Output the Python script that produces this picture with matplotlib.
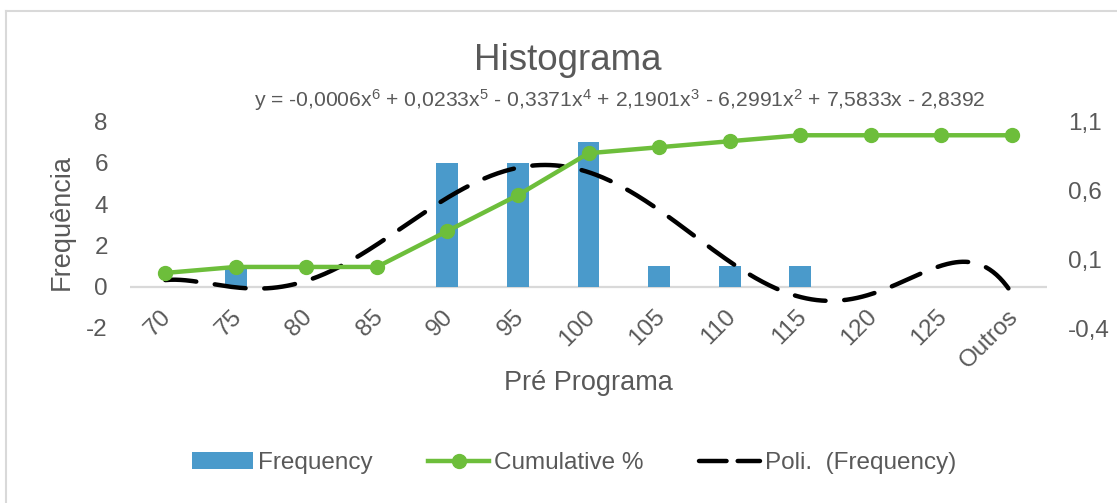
import numpy as np
import matplotlib
matplotlib.use("Agg")
import matplotlib.pyplot as plt
from matplotlib.patches import Patch
from matplotlib.lines import Line2D
from matplotlib.transforms import ScaledTranslation

plt.rcParams['font.family'] = ['Liberation Sans', 'DejaVu Sans']
plt.rcParams['mathtext.fontset'] = 'custom'
plt.rcParams['mathtext.rm'] = 'Liberation Sans'
plt.rcParams['mathtext.it'] = 'Liberation Sans'
plt.rcParams['mathtext.bf'] = 'Liberation Sans:bold'

# ---- data ----
categories = ['70', '75', '80', '85', '90', '95', '100', '105', '110', '115', '120', '125', 'Outros']
frequency = [0, 1, 0, 0, 6, 6, 7, 1, 1, 1, 0, 0, 0]
cumulative = [0.0, 0.0435, 0.0435, 0.0435, 0.3043, 0.5652, 0.8696, 0.9130, 0.9565, 1.0, 1.0, 1.0, 1.0]
y1_ticks = [-2, 0, 2, 4, 6, 8]
y2_ticks = [-0.4, 0.1, 0.6, 1.1]
title = 'Histograma'
equation = ('y = -0,0006x$^6$ + 0,0233x$^5$ - 0,3371x$^4$ + 2,1901x$^3$ '
            '- 6,2991x$^2$ + 7,5833x - 2,8392')
xlabel = 'Pré Programa'
ylabel = 'Frequência'
legend_labels = ['Frequency', 'Cumulative %', 'Poli.  (Frequency)']

# ---- style ----
BLUE = '#4A9ACB'
GREEN = '#6DBE3B'
TXT = '#595959'
GRID = '#D9D9D9'
FS = 17.5

W, H = 1117, 503
fig = plt.figure(figsize=(W / 100, H / 100), dpi=100)
L, R, T, B = 130, 1047, 121.5, 328
ax = fig.add_axes([L / W, 1 - B / H, (R - L) / W, (B - T) / H])

x = np.arange(len(categories))
ax.bar(x, frequency, width=0.31, color=BLUE, zorder=2)
ax.axhline(0, color=GRID, lw=1.6, zorder=1)

# polynomial trendline (order 6), fitted on category index 1..n
xi = np.arange(1, len(categories) + 1)
coefs = np.polyfit(xi, frequency, 6)
xs = np.linspace(x[0], x[-1], 500)
ys = np.polyval(coefs, xs + 1)
ax.plot(xs, ys, color='black', lw=3.2, dashes=(7.0, 4.2), dash_capstyle='round', zorder=3)

ax.set_xlim(-0.5, len(categories) - 0.5)
ax.set_ylim(-2, 8)
ax.set_yticks(y1_ticks)
ax.set_yticklabels([str(v) for v in y1_ticks])
ax.set_xticks([])
ax.tick_params(axis='y', length=0, labelsize=FS, labelcolor=TXT, pad=16)
for s in ax.spines.values():
    s.set_visible(False)

# x tick labels, rotated, hanging below zero line
for i, lab in enumerate(categories):
    off = ScaledTranslation(7 / 100, -31 / 100, fig.dpi_scale_trans)
    ax.text(i, 0, lab, transform=ax.transData + off, rotation=45,
            rotation_mode='anchor', ha='right', va='baseline',
            fontsize=FS, color=TXT)

ax2 = ax.twinx()
ax2.plot(x, cumulative, color=GREEN, lw=3.2, marker='o', ms=10, zorder=4)
ax2.set_ylim(-0.4, 1.1)
ax2.set_yticks(y2_ticks)
ax2.set_yticklabels([f'{v:.1f}'.replace('.', ',') for v in y2_ticks])
ax2.tick_params(axis='y', length=0, labelsize=FS, labelcolor=TXT, pad=15)
for s in ax2.spines.values():
    s.set_visible(False)

# texts
fig.text(568 / W, 1 - 60 / H, title, ha='center', va='center', fontsize=26.5, color=TXT)
fig.text(620 / W, 1 - 100 / H, equation, ha='center', va='center', fontsize=15.2, color=TXT)
fig.text(62 / W, 1 - 222 / H, ylabel, rotation=90, ha='center', va='center', fontsize=19.5, color=TXT)
fig.text(588 / W, 1 - 383 / H, xlabel, ha='center', va='center', fontsize=19.5, color=TXT)

# legend
handles = [Patch(facecolor=BLUE, edgecolor='none'),
           Line2D([], [], color=GREEN, lw=3.2, marker='o', ms=10),
           Line2D([], [], color='black', lw=3.2, dashes=(6.2, 2.5), dash_capstyle='round')]
fig.legend(handles, legend_labels, loc='center', bbox_to_anchor=(574 / W, 1 - 463 / H),
           ncol=3, frameon=False, fontsize=FS, labelcolor=TXT, handlelength=2.5,
           handletextpad=0.2, columnspacing=2.3)

# chart border (left and top visible)
fig.add_artist(Line2D([6 / W, 6 / W], [0, 1 - 11 / H], color=GRID, lw=1.5, transform=fig.transFigure))
fig.add_artist(Line2D([6 / W, 1], [1 - 11 / H, 1 - 11 / H], color=GRID, lw=1.5, transform=fig.transFigure))

fig.savefig('out.png', dpi=100, facecolor='white')
